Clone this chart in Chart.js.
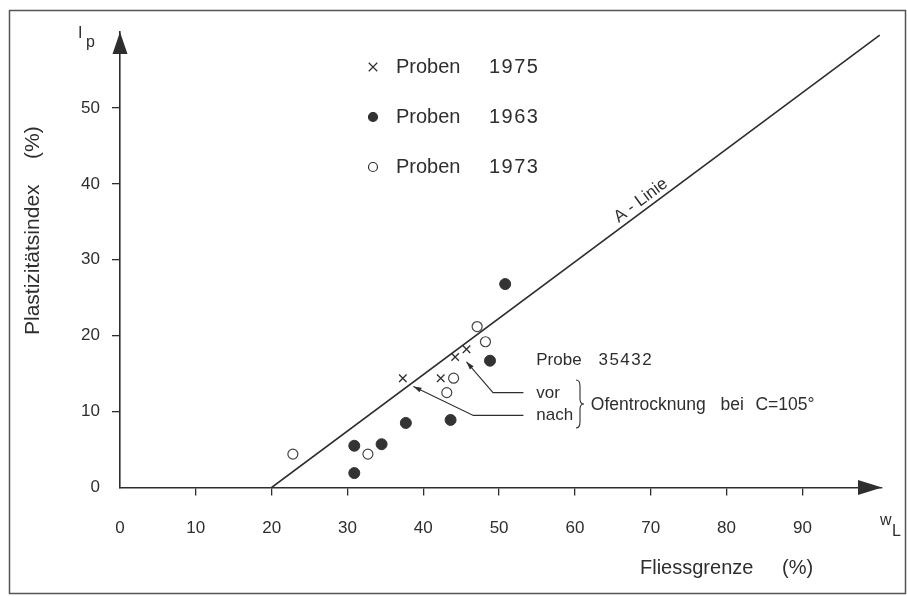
<!DOCTYPE html>
<html lang="de">
<head>
    <meta charset="UTF-8">
    <title>Plastizitätsdiagramm</title>
    <script src="https://cdn.jsdelivr.net/npm/chart.js"></script>
    <style>
        html, body { margin: 0; padding: 0; background: #fff; }
        #chart-box { width: 907px; height: 596px; }
    </style>
</head>
<body>
<div id="chart-box"><canvas id="plastChart" width="907" height="596"></canvas></div>
<script>
    // Proben 1975 (Kreuze)
    const proben1975X = [37.3, 42.3, 44.2, 45.7];
    const proben1975Y = [14.4, 14.4, 17.2, 18.2];
    // Proben 1963 (gefüllte Kreise)
    const proben1963X = [50.8, 48.8, 37.7, 43.6, 30.9, 34.5, 30.9];
    const proben1963Y = [26.8, 16.7, 8.5, 8.9, 5.5, 5.7, 1.9];
    // Proben 1973 (offene Kreise)
    const proben1973X = [22.8, 32.7, 47.1, 48.2, 44.0, 43.1];
    const proben1973Y = [4.4, 4.4, 21.2, 19.2, 14.4, 12.5];
    // A-Linie
    const aLinieX = [20, 100.2];
    const aLinieY = [0, 59.6];

    const xTicks = [0, 10, 20, 30, 40, 50, 60, 70, 80, 90];
    const yTicks = [0, 10, 20, 30, 40, 50];

    const ink = '#2e2e2e';
    const fam = '"Liberation Sans", Arial, sans-serif';

    const toPoints = (xs, ys) => xs.map((v, i) => ({ x: v, y: ys[i] }));

    // alles was nicht direkt von Chart.js kommt: Rahmen, Pfeile, Legende, Beschriftungen
    const zeichnung = {
        id: 'zeichnung',
        afterDraw(chart) {
            const { ctx, scales: { x, y } } = chart;
            const px = v => x.getPixelForValue(v);
            const py = v => y.getPixelForValue(v);

            ctx.save();
            // Rahmen
            ctx.strokeStyle = '#555';
            ctx.lineWidth = 1.5;
            ctx.strokeRect(9.5, 10.5, 896, 583);

            // Pfeilspitzen der Achsen
            ctx.fillStyle = ink;
            let tx = px(x.max), ty = py(0);
            ctx.beginPath();
            ctx.moveTo(tx, ty);
            ctx.lineTo(tx - 24, ty - 7.5);
            ctx.lineTo(tx - 24, ty + 7.5);
            ctx.closePath();
            ctx.fill();
            tx = px(0); ty = py(y.max);
            ctx.beginPath();
            ctx.moveTo(tx, ty);
            ctx.lineTo(tx - 7.5, ty + 22);
            ctx.lineTo(tx + 7.5, ty + 22);
            ctx.closePath();
            ctx.fill();

            ctx.fillStyle = ink;
            ctx.textBaseline = 'middle';
            ctx.textAlign = 'left';

            // Achsentitel
            ctx.font = '20px ' + fam;
            ctx.fillText('Fliessgrenze', 640, 568);
            ctx.fillText('(%)', 782, 568);
            ctx.save();
            ctx.translate(33, 335);
            ctx.rotate(-Math.PI / 2);
            ctx.font = '21px ' + fam;
            ctx.fillText('Plastizitätsindex', 0, 0);
            ctx.fillText('(%)', 176, 0);
            ctx.restore();

            // I_p und w_L
            ctx.font = '16px ' + fam;
            ctx.fillText('I', 78, 34);
            ctx.fillText('p', 86, 43);
            ctx.fillText('w', 880, 521);
            ctx.fillText('L', 892, 532);

            // Legende
            const rows = [67, 117, 167];
            chart.data.datasets.slice(0, 3).forEach((ds, i) => {
                const parts = ds.label.split(' ');
                ctx.lineWidth = 1.2;
                ctx.strokeStyle = ink;
                ctx.fillStyle = ds.backgroundColor;
                Chart.helpers.drawPoint(ctx, {
                    pointStyle: ds.pointStyle, radius: ds.pointStyle === 'crossRot' ? 6 : 4.5,
                    rotation: 0, borderWidth: 1.2
                }, 373, rows[i]);
                ctx.fillStyle = ink;
                ctx.font = '20px ' + fam;
                ctx.fillText(parts[0], 396, rows[i]);
                ctx.letterSpacing = '1.5px';
                ctx.fillText(parts[1], 489, rows[i]);
                ctx.letterSpacing = '0px';
            });

            // Beschriftung der A-Linie
            const ang = Math.atan2(py(aLinieY[1]) - py(aLinieY[0]), px(aLinieX[1]) - px(aLinieX[0]));
            ctx.save();
            ctx.translate(px(68.7), py(37.8));
            ctx.rotate(ang);
            ctx.textAlign = 'center';
            ctx.font = '17px ' + fam;
            ctx.fillText('A - Linie', 0, 0);
            ctx.restore();

            // Probe 35432, vor / nach Ofentrocknung
            ctx.font = '17px ' + fam;
            ctx.fillText('Probe', px(54.9), py(16.8));
            ctx.letterSpacing = '1.5px';
            ctx.fillText('35432', px(63.1), py(16.8));
            ctx.letterSpacing = '0px';
            ctx.fillText('vor', px(54.9), py(12.4));
            ctx.fillText('nach', px(54.9), py(9.5));
            ctx.font = '17.5px ' + fam;
            ctx.fillText('Ofentrocknung', px(62.1), py(10.85));
            ctx.fillText('bei', px(79.2), py(10.85));
            ctx.fillText('C=105°', px(83.8), py(10.85));

            // Hinweislinien mit kleinen Pfeilen
            const leader = pts => {
                ctx.strokeStyle = ink;
                ctx.lineWidth = 1.1;
                ctx.beginPath();
                pts.forEach((p, i) => i ? ctx.lineTo(px(p[0]), py(p[1])) : ctx.moveTo(px(p[0]), py(p[1])));
                ctx.stroke();
                const x0 = px(pts[0][0]), y0 = py(pts[0][1]);
                const a = Math.atan2(py(pts[1][1]) - y0, px(pts[1][0]) - x0);
                ctx.beginPath();
                ctx.moveTo(x0, y0);
                ctx.lineTo(x0 + 8 * Math.cos(a) - 2.5 * Math.sin(a), y0 + 8 * Math.sin(a) + 2.5 * Math.cos(a));
                ctx.lineTo(x0 + 8 * Math.cos(a) + 2.5 * Math.sin(a), y0 + 8 * Math.sin(a) - 2.5 * Math.cos(a));
                ctx.closePath();
                ctx.fillStyle = ink;
                ctx.fill();
            };
            leader([[45.7, 16.55], [49.2, 12.5], [53.2, 12.5]]);
            leader([[38.7, 13.3], [46.6, 9.5], [53.2, 9.5]]);

            // geschweifte Klammer
            const bx = 576, top = 380, bot = 428, mid = (top + bot) / 2;
            ctx.lineWidth = 1.1;
            ctx.beginPath();
            ctx.moveTo(bx, top);
            ctx.quadraticCurveTo(bx + 4, top, bx + 4, top + 6);
            ctx.lineTo(bx + 4, mid - 5);
            ctx.quadraticCurveTo(bx + 4, mid, bx + 8, mid);
            ctx.quadraticCurveTo(bx + 4, mid, bx + 4, mid + 5);
            ctx.lineTo(bx + 4, bot - 6);
            ctx.quadraticCurveTo(bx + 4, bot, bx, bot);
            ctx.stroke();
            ctx.restore();
        }
    };

    const tickColor = c => (c.tick && c.tick.value === 0 ? 'rgba(0,0,0,0)' : ink);

    new Chart(document.getElementById('plastChart'), {
        type: 'scatter',
        data: {
            datasets: [
                {
                    label: 'Proben 1975',
                    data: toPoints(proben1975X, proben1975Y),
                    pointStyle: 'crossRot',
                    pointRadius: 5.3,
                    borderColor: ink,
                    backgroundColor: ink,
                    borderWidth: 1.3
                },
                {
                    label: 'Proben 1963',
                    data: toPoints(proben1963X, proben1963Y),
                    pointStyle: 'circle',
                    pointRadius: 5.5,
                    borderColor: '#333',
                    backgroundColor: '#333',
                    borderWidth: 1
                },
                {
                    label: 'Proben 1973',
                    data: toPoints(proben1973X, proben1973Y),
                    pointStyle: 'circle',
                    pointRadius: 5,
                    borderColor: '#444',
                    backgroundColor: '#fff',
                    borderWidth: 1.2
                },
                {
                    label: 'A-Linie',
                    data: toPoints(aLinieX, aLinieY),
                    showLine: true,
                    pointRadius: 0,
                    borderColor: ink,
                    borderWidth: 1.6,
                    fill: false
                }
            ]
        },
        options: {
            responsive: false,
            animation: false,
            events: [],
            layout: { padding: { left: 0, top: 32, right: 25, bottom: 0 } },
            plugins: {
                legend: { display: false },
                tooltip: { enabled: false }
            },
            scales: {
                x: {
                    type: 'linear',
                    min: 0,
                    max: 100.5,
                    afterBuildTicks: s => { s.ticks = xTicks.map(v => ({ value: v })); },
                    afterFit: s => { s.height = 108.5; },
                    grid: { drawOnChartArea: false, drawTicks: true, tickLength: 8, color: tickColor, lineWidth: 1.3 },
                    border: { display: true, color: ink, width: 1.6 },
                    ticks: { color: ink, font: { family: fam, size: 17 }, padding: 23, maxRotation: 0, autoSkip: false }
                },
                y: {
                    type: 'linear',
                    min: 0,
                    max: 60,
                    afterBuildTicks: s => { s.ticks = yTicks.map(v => ({ value: v })); },
                    afterFit: s => { s.width = 120; },
                    grid: { drawOnChartArea: false, drawTicks: true, tickLength: 8, color: tickColor, lineWidth: 1.3 },
                    border: { display: true, color: ink, width: 1.6 },
                    ticks: { color: ink, font: { family: fam, size: 17 }, padding: 12, autoSkip: false }
                }
            }
        },
        plugins: [zeichnung]
    });
</script>
</body>
</html>
